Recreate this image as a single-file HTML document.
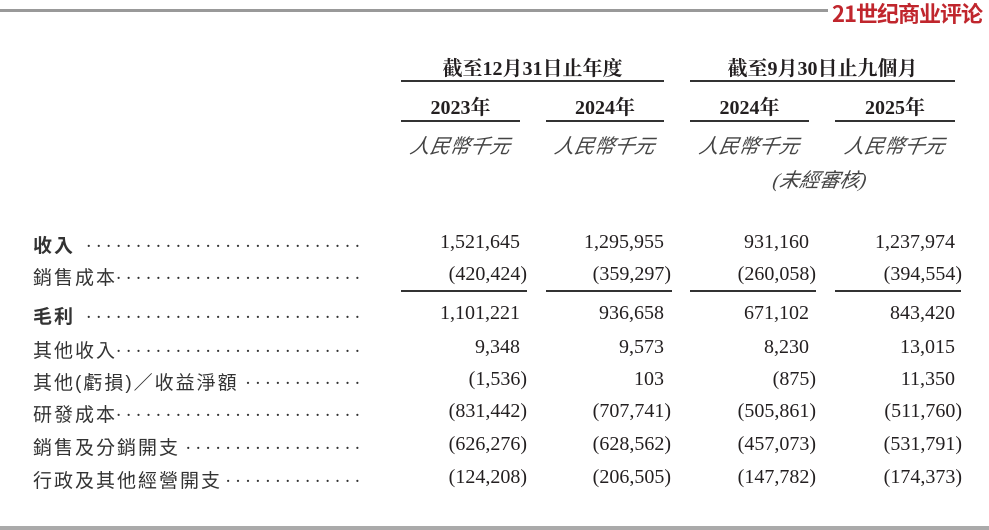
<!DOCTYPE html>
<html><head><meta charset="utf-8"><style>
body{margin:0;width:989px;height:530px;background:#fff;position:relative;overflow:hidden;font-family:"Liberation Serif","Noto Serif CJK SC",serif;color:#231f20}
.a{position:absolute;white-space:nowrap}
.r{position:absolute;height:2px;background:#333}
.h{font-weight:bold;font-size:20px;text-align:center}
.u{font-style:italic;font-size:20px;text-align:center;font-family:"Liberation Serif","Noto Sans CJK TC",serif;color:#444;transform:skewX(-10deg)}
.l{left:33px;font-size:19px;font-family:"Liberation Sans","Noto Sans CJK TC",sans-serif;letter-spacing:2px;color:#333}
.d{position:absolute;left:33px;width:332px;overflow:hidden;white-space:nowrap;font-size:19px;letter-spacing:5.2px;text-align:right;color:#333;direction:rtl}
.n{font-size:20px;text-align:right}
</style></head><body>
<div style="position:absolute;left:0;top:9px;width:828px;height:3px;background:#999"></div>
<div class="a" style="left:832px;top:-3px;font-size:22px;color:#c0262d;font-family:'Noto Sans CJK SC',sans-serif;font-weight:bold;letter-spacing:-1px">21世纪商业评论</div>
<div style="position:absolute;left:0;top:526px;width:989px;height:4px;background:#aaa"></div>

<div class="a h" style="left:401px;width:263px;top:52px">截至12月31日止年度</div>
<div class="a h" style="left:690px;width:265px;top:52px">截至9月30日止九個月</div>
<div class="r" style="left:401px;width:263px;top:80px"></div>
<div class="r" style="left:690px;width:265px;top:80px"></div>
<div class="a h" style="left:401px;width:119px;top:91px">2023年</div>
<div class="a h" style="left:546px;width:118px;top:91px">2024年</div>
<div class="a h" style="left:690px;width:119px;top:91px">2024年</div>
<div class="a h" style="left:835px;width:120px;top:91px">2025年</div>
<div class="r" style="left:401px;width:119px;top:120px"></div>
<div class="r" style="left:546px;width:118px;top:120px"></div>
<div class="r" style="left:690px;width:119px;top:120px"></div>
<div class="r" style="left:835px;width:120px;top:120px"></div>
<div class="a u" style="left:401px;width:119px;top:130px">人民幣千元</div>
<div class="a u" style="left:546px;width:118px;top:130px">人民幣千元</div>
<div class="a u" style="left:690px;width:119px;top:130px">人民幣千元</div>
<div class="a u" style="left:835px;width:120px;top:130px">人民幣千元</div>
<div class="a u" style="left:760px;width:120px;top:164px">(未經審核)</div>

<div class="r" style="left:401px;width:126px;top:290px;height:1.5px"></div>
<div class="r" style="left:546px;width:126px;top:290px;height:1.5px"></div>
<div class="r" style="left:690px;width:126px;top:290px;height:1.5px"></div>
<div class="r" style="left:835px;width:126px;top:290px;height:1.5px"></div>

<div class="d" style="top:231px">........................................</div><div class="a l" style="top:231px;font-weight:bold;background:#fff;padding-right:6px">收入</div>
<div class="d" style="top:263px">........................................</div><div class="a l" style="top:263px;background:#fff">銷售成本</div>
<div class="d" style="top:302px">........................................</div><div class="a l" style="top:302px;font-weight:bold;background:#fff;padding-right:6px">毛利</div>
<div class="d" style="top:336px">........................................</div><div class="a l" style="top:336px;background:#fff">其他收入</div>
<div class="d" style="top:368px">........................................</div><div class="a l" style="top:368px;background:#fff">其他(虧損)／收益淨額</div>
<div class="d" style="top:400px">........................................</div><div class="a l" style="top:400px;background:#fff">研發成本</div>
<div class="d" style="top:433px">........................................</div><div class="a l" style="top:433px;background:#fff">銷售及分銷開支</div>
<div class="d" style="top:466px">........................................</div><div class="a l" style="top:466px;background:#fff;padding-right:4px">行政及其他經營開支</div>

<div class="a n" style="right:469px;top:231px">1,521,645</div><div class="a n" style="right:325px;top:231px">1,295,955</div><div class="a n" style="right:180px;top:231px">931,160</div><div class="a n" style="right:34px;top:231px">1,237,974</div>
<div class="a n" style="right:462px;top:263px">(420,424)</div><div class="a n" style="right:318px;top:263px">(359,297)</div><div class="a n" style="right:173px;top:263px">(260,058)</div><div class="a n" style="right:27px;top:263px">(394,554)</div>
<div class="a n" style="right:469px;top:302px">1,101,221</div><div class="a n" style="right:325px;top:302px">936,658</div><div class="a n" style="right:180px;top:302px">671,102</div><div class="a n" style="right:34px;top:302px">843,420</div>
<div class="a n" style="right:469px;top:336px">9,348</div><div class="a n" style="right:325px;top:336px">9,573</div><div class="a n" style="right:180px;top:336px">8,230</div><div class="a n" style="right:34px;top:336px">13,015</div>
<div class="a n" style="right:462px;top:368px">(1,536)</div><div class="a n" style="right:325px;top:368px">103</div><div class="a n" style="right:173px;top:368px">(875)</div><div class="a n" style="right:34px;top:368px">11,350</div>
<div class="a n" style="right:462px;top:400px">(831,442)</div><div class="a n" style="right:318px;top:400px">(707,741)</div><div class="a n" style="right:173px;top:400px">(505,861)</div><div class="a n" style="right:27px;top:400px">(511,760)</div>
<div class="a n" style="right:462px;top:433px">(626,276)</div><div class="a n" style="right:318px;top:433px">(628,562)</div><div class="a n" style="right:173px;top:433px">(457,073)</div><div class="a n" style="right:27px;top:433px">(531,791)</div>
<div class="a n" style="right:462px;top:466px">(124,208)</div><div class="a n" style="right:318px;top:466px">(206,505)</div><div class="a n" style="right:173px;top:466px">(147,782)</div><div class="a n" style="right:27px;top:466px">(174,373)</div>
</body></html>
